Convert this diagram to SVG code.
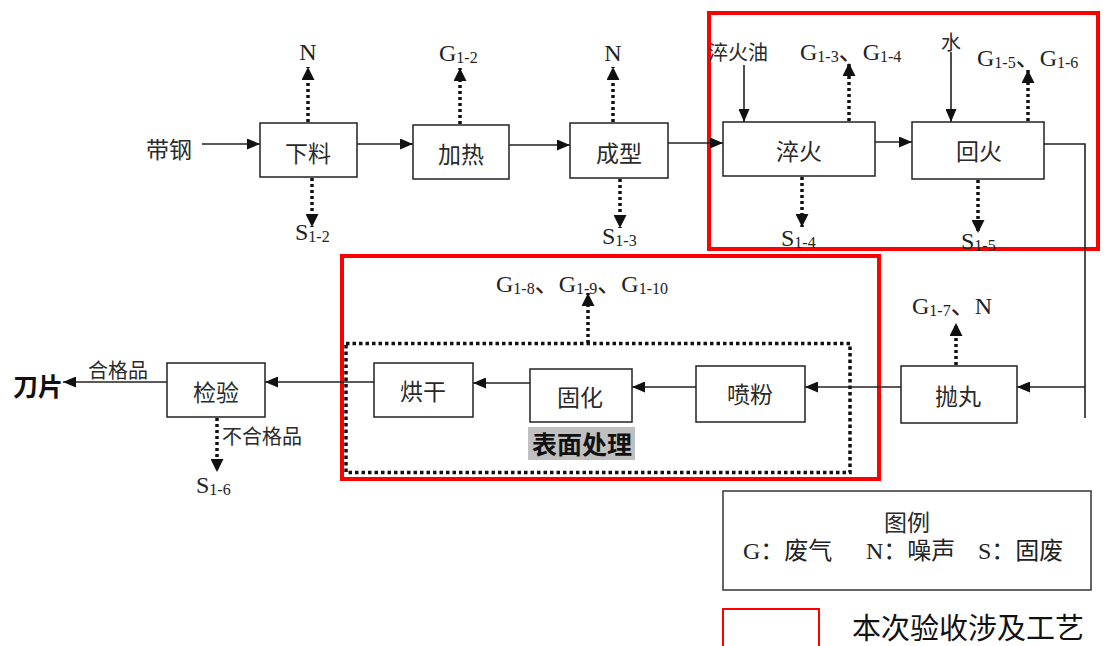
<svg xmlns="http://www.w3.org/2000/svg" width="1106" height="646" viewBox="0 0 1106 646">
<style>
.box{fill:#fff;stroke:#222;stroke-width:1.5}
.cn{font-family:"Noto Sans CJK SC","Noto Sans CJK JP",sans-serif;font-size:23px;fill:#2a2a2a;text-anchor:middle;dominant-baseline:central}
.cs{font-family:"Noto Sans CJK SC",sans-serif;font-size:20px;fill:#2a2a2a;text-anchor:middle;dominant-baseline:central}
.lt{font-family:"Liberation Serif","Noto Sans CJK SC",serif;font-size:24px;fill:#222;dominant-baseline:central}
.sub{font-size:16px}
.ln{fill:none;stroke:#222;stroke-width:1.6}
.dt{fill:none;stroke:#111;stroke-width:3.5;stroke-dasharray:3 3}
.red{fill:none;stroke:#ff0000;stroke-width:4}
</style>
<defs>
<marker id="ah" markerUnits="userSpaceOnUse" markerWidth="13" markerHeight="11" refX="13" refY="5.5" orient="auto"><path d="M0,0 L13,5.5 L0,11 z" fill="#111"/></marker>
<marker id="ad" markerUnits="userSpaceOnUse" markerWidth="13" markerHeight="13" refX="13" refY="6.5" orient="auto"><path d="M0,0 L13,6.5 L0,13 z" fill="#111"/></marker>
</defs>
<rect width="1106" height="646" fill="#fff"/>

<g id="regions">
<rect class="red" x="709" y="13" width="389" height="236"/>
<rect class="red" x="342" y="256" width="537" height="223"/>
<rect x="346" y="343.5" width="504" height="129" fill="none" stroke="#111" stroke-width="3.5" stroke-dasharray="3.5 3"/>
</g>

<g id="connectors">
<line class="ln" x1="202" y1="144" x2="260" y2="144" marker-end="url(#ah)"/>
<line class="ln" x1="357" y1="144" x2="413" y2="144" marker-end="url(#ah)"/>
<line class="ln" x1="509" y1="145" x2="570" y2="145" marker-end="url(#ah)"/>
<line class="ln" x1="668" y1="143" x2="723" y2="143" marker-end="url(#ah)"/>
<line class="ln" x1="875" y1="142" x2="912" y2="142" marker-end="url(#ah)"/>
<line class="ln" x1="744" y1="65" x2="744" y2="122" marker-end="url(#ah)"/>
<line class="ln" x1="951" y1="52" x2="951" y2="122" marker-end="url(#ah)"/>
<polyline class="ln" points="1044,144 1085,144 1085,418"/>
<line class="ln" x1="1085" y1="387" x2="1017" y2="387" marker-end="url(#ah)"/>
<line class="ln" x1="901" y1="387" x2="805" y2="387" marker-end="url(#ah)"/>
<line class="ln" x1="696" y1="387" x2="632" y2="387" marker-end="url(#ah)"/>
<line class="ln" x1="530" y1="383" x2="473" y2="383" marker-end="url(#ah)"/>
<line class="ln" x1="374" y1="382" x2="265" y2="382" marker-end="url(#ah)"/>
<line class="ln" x1="167" y1="382" x2="63" y2="382" marker-end="url(#ah)"/>

<line class="dt" x1="308" y1="122" x2="308" y2="67" marker-end="url(#ad)"/>
<line class="dt" x1="312" y1="178" x2="312" y2="227" marker-end="url(#ad)"/>
<line class="dt" x1="460" y1="124" x2="460" y2="68" marker-end="url(#ad)"/>
<line class="dt" x1="613" y1="122" x2="613" y2="67" marker-end="url(#ad)"/>
<line class="dt" x1="620" y1="179" x2="620" y2="228" marker-end="url(#ad)"/>
<line class="dt" x1="849" y1="121" x2="849" y2="63" marker-end="url(#ad)"/>
<line class="dt" x1="1028" y1="121" x2="1028" y2="70" marker-end="url(#ad)"/>
<line class="dt" x1="802" y1="177" x2="802" y2="227" marker-end="url(#ad)"/>
<line class="dt" x1="978" y1="180" x2="978" y2="233" marker-end="url(#ad)"/>
<line class="dt" x1="956" y1="365" x2="956" y2="323" marker-end="url(#ad)"/>
<line class="dt" x1="588" y1="343" x2="588" y2="293" marker-end="url(#ad)"/>
<line class="dt" x1="217" y1="418" x2="217" y2="472" marker-end="url(#ad)"/>
</g>

<g id="n-xialiao"><rect class="box" x="260" y="123" width="97" height="54"/><text class="cn" x="308" y="152">下料</text></g>
<g id="n-jiare"><rect class="box" x="413" y="125" width="96" height="54"/><text class="cn" x="461" y="153">加热</text></g>
<g id="n-chengxing"><rect class="box" x="570" y="123" width="98" height="55"/><text class="cn" x="619" y="152">成型</text></g>
<g id="n-cuihuo"><rect class="box" x="723" y="122" width="152" height="54"/><text class="cn" x="799" y="150">淬火</text></g>
<g id="n-huihuo"><rect class="box" x="912" y="122" width="132" height="57"/><text class="cn" x="979" y="150">回火</text></g>
<g id="n-paowan"><rect class="box" x="901" y="366" width="116" height="57"/><text class="cn" x="958" y="395">抛丸</text></g>
<g id="n-penfen"><rect class="box" x="696" y="366" width="109" height="56"/><text class="cn" x="750" y="393">喷粉</text></g>
<g id="n-guhua"><rect class="box" x="530" y="369" width="102" height="53"/><text class="cn" x="580" y="396">固化</text></g>
<g id="n-honggan"><rect class="box" x="374" y="363" width="99" height="54"/><text class="cn" x="423" y="390">烘干</text></g>
<g id="n-jianyan"><rect class="box" x="167" y="363" width="98" height="54"/><text class="cn" x="216" y="391">检验</text></g>

<g id="labels">
<text class="cn" x="169" y="148">带钢</text>
<text class="cn" x="38" y="385" style="font-weight:bold;font-size:25px;fill:#111">刀片</text>
<text class="cs" x="118" y="369">合格品</text>
<text class="cs" x="262" y="435">不合格品</text>
<text class="cs" x="738" y="51">淬火油</text>
<text class="cs" x="951" y="41">水</text>
<g id="surface-label">
<rect x="528" y="427" width="107" height="33" fill="#c0c0c0"/>
<text class="cn" x="582" y="443" style="font-weight:bold;font-size:25px;fill:#111">表面处理</text>
</g>

<text class="lt" x="308" y="52" text-anchor="middle">N</text>
<text class="lt" x="439" y="53">G<tspan class="sub" dy="4">1-2</tspan></text>
<text class="lt" x="613" y="53" text-anchor="middle">N</text>
<text class="lt" x="295" y="232">S<tspan class="sub" dy="4">1-2</tspan></text>
<text class="lt" x="602" y="236">S<tspan class="sub" dy="4">1-3</tspan></text>
<text class="lt" x="800" y="52">G<tspan class="sub" dy="4">1-3</tspan><tspan dy="-4">、G</tspan><tspan class="sub" dy="4">1-4</tspan></text>
<text class="lt" x="977" y="58">G<tspan class="sub" dy="4">1-5</tspan><tspan dy="-4">、G</tspan><tspan class="sub" dy="4">1-6</tspan></text>
<text class="lt" x="781" y="238">S<tspan class="sub" dy="4">1-4</tspan></text>
<text class="lt" x="961" y="241">S<tspan class="sub" dy="4">1-5</tspan></text>
<text class="lt" x="912" y="306">G<tspan class="sub" dy="4">1-7</tspan><tspan dy="-4">、N</tspan></text>
<text class="lt" x="496" y="284">G<tspan class="sub" dy="4">1-8</tspan><tspan dy="-4">、G</tspan><tspan class="sub" dy="4">1-9</tspan><tspan dy="-4">、G</tspan><tspan class="sub" dy="4">1-10</tspan></text>
<text class="lt" x="196" y="485">S<tspan class="sub" dy="4">1-6</tspan></text>
</g>

<g id="legend">
<rect x="723" y="491" width="368" height="99" fill="#fff" stroke="#333" stroke-width="1.5"/>
<text class="cn" x="907" y="521">图例</text>
<text class="lt" x="743" y="551"><tspan x="743">G：废气</tspan><tspan x="866">N：噪声</tspan><tspan x="978">S：固废</tspan></text>
<rect x="723" y="609" width="96" height="44" fill="none" stroke="#ff0000" stroke-width="2"/>
<text x="852" y="626" style="font-family:'Noto Sans CJK SC',sans-serif;font-size:29px;fill:#111;dominant-baseline:central">本次验收涉及工艺</text>
</g>
</svg>
